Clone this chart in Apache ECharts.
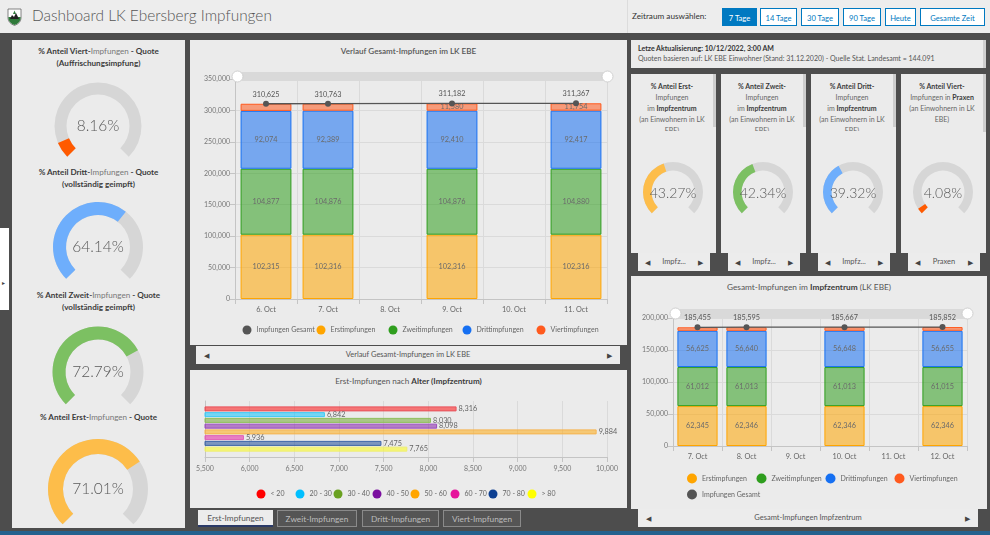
<!DOCTYPE html>
<html>
<head>
<meta charset="utf-8">
<script src="https://cdn.jsdelivr.net/npm/echarts/dist/echarts.min.js"></script>
<style>
html,body{margin:0;padding:0;width:990px;height:535px;overflow:hidden;background:#4d4d4d;font-family:Lato,'Open Sans',sans-serif;}
.a{position:absolute;}
.panel{position:absolute;background:#ebebeb;}
.hdr{position:absolute;left:0;top:0;width:990px;height:33px;background:#ededed;}
.btn{position:absolute;top:8px;height:18px;line-height:18px;border:1px solid #0079c1;background:#fff;color:#0079c1;font-size:7.6px;text-align:center;box-sizing:border-box;}
.btn.on{background:#0079c1;color:#fff;}
.ttl{position:absolute;text-align:center;font-size:8.1px;color:#444;white-space:nowrap;}
.b{font-weight:700;color:#3c3c3c;}
.l{font-weight:400;color:#777;}
.nav{position:absolute;background:#ececec;height:18px;line-height:18px;font-size:7.5px;color:#555;text-align:center;}
.nav .ar{position:absolute;top:0;font-size:7px;color:#444;}
.sg{position:absolute;text-align:center;font-size:7px;line-height:11px;color:#666;overflow:hidden;}
.tab{position:absolute;top:510px;height:17px;line-height:17px;font-size:8.3px;text-align:center;box-sizing:border-box;}
.tab.off{background:#555;color:#bdbdbd;border:1px solid #8a8a8a;}
.tab.on{background:#ececec;color:#555;border-bottom:2px solid #2b3a67;}
.chart{position:absolute;}
</style>
</head>
<body>
<script>
// ---------------- DATA ----------------
const mainDates  = ['6. Oct','7. Oct','8. Oct','9. Oct','10. Oct','11. Oct'];
const mainErst   = [102315, 102316, null, 102316, null, 102316];
const mainZweit  = [104877, 104876, null, 104876, null, 104880];
const mainDritt  = [92074, 92389, null, 92410, null, 92417];
const mainViert  = [11359, 11182, null, 11580, null, 11754];
const mainGesamt = [310625, 310763, null, 311182, null, 311367];

const izDates  = ['7. Oct','8. Oct','9. Oct','10. Oct','11. Oct','12. Oct'];
const izErst   = [62345, 62346, null, 62346, null, 62346];
const izZweit  = [61012, 61013, null, 61013, null, 61015];
const izDritt  = [56625, 56640, null, 56648, null, 56655];
const izViert  = [5473, 5596, null, 5660, null, 5836];
const izGesamt = [185455, 185595, null, 185667, null, 185852];

const ageGroups = ['< 20','20 - 30','30 - 40','40 - 50','50 - 60','60 - 70','70 - 80','> 80'];
const ageValues = [8316, 6842, 8030, 8098, 9884, 5936, 7475, 7765];

const quoteLeft = [8.16, 64.14, 72.79, 71.01];      // Viert, Dritt, Zweit, Erst
const quoteIZ   = [43.27, 42.34, 39.32, 4.08];      // Erst IZ, Zweit IZ, Dritt IZ, Viert Praxen

const buttonLabels = ['7 Tage','14 Tage','30 Tage','90 Tage','Heute','Gesamte Zeit'];
const tabLabels = ['Erst-Impfungen','Zweit-Impfungen','Dritt-Impfungen','Viert-Impfungen'];
</script>

<!-- header -->
<div class="hdr">
  <svg class="a" style="left:7px;top:8px" width="15" height="18" viewBox="0 0 15 18">
    <path d="M1 1 H14 V10 Q14 15 7.5 17.5 Q1 15 1 10 Z" fill="#fff" stroke="#666" stroke-width="0.8"/>
    <path d="M1.4 9 H13.6 V10 Q13.6 14.7 7.5 17 Q1.4 14.7 1.4 10 Z" fill="#2f7a3a"/>
    <path d="M3 11 L5 7 L7 9 L9 5 L11 9 L12 11 Z" fill="#222"/>
    <path d="M7.5 2.5 L6 6 H9 Z" fill="#2f7a3a"/>
  </svg>
  <div class="a" style="left:32px;top:6px;font-size:15.4px;font-weight:300;color:#555;white-space:nowrap;">Dashboard LK Ebersberg Impfungen</div>
  <div class="a" style="left:627px;top:0;width:1px;height:33px;background:#dcdcdc;"></div>
  <div class="a" style="left:632px;top:11px;font-size:8.2px;color:#333;white-space:nowrap;">Zeitraum auswählen:</div>
  <div id="btns"></div>
</div>

<!-- side toggle -->
<div class="a" style="left:0;top:228px;width:9px;height:82px;background:#fff;"></div>
<div class="a" style="left:2px;top:279px;font-size:6px;color:#444;">&#9656;</div>

<!-- left panel -->
<div class="panel" style="left:12px;top:40px;width:173px;height:488px;"></div>
<div class="ttl" style="left:12px;width:173px;top:46px;line-height:11.5px;"><span class="b">% Anteil Viert-</span><span class="l">Impfungen</span><span class="b"> - Quote</span><br><span class="b">(Auffrischungsimpfung)</span></div>
<div class="ttl" style="left:12px;width:173px;top:167px;line-height:11.5px;"><span class="b">% Anteil Dritt-</span><span class="l">Impfungen</span><span class="b"> - Quote</span><br><span class="b">(vollständig geimpft)</span></div>
<div class="ttl" style="left:12px;width:173px;top:290px;line-height:11.5px;"><span class="b">% Anteil Zweit-</span><span class="l">Impfungen</span><span class="b"> - Quote</span><br><span class="b">(vollständig geimpft)</span></div>
<div class="ttl" style="left:12px;width:173px;top:412px;line-height:11.5px;"><span class="b">% Anteil Erst-</span><span class="l">Impfungen</span><span class="b"> - Quote</span></div>
<div id="leftGauges" class="chart" style="left:12px;top:40px;width:173px;height:488px;"></div>

<!-- main chart panel -->
<div class="panel" style="left:190px;top:40px;width:437px;height:305px;"></div>
<div class="ttl" style="left:190px;width:437px;top:46px;color:#555;font-weight:600;">Verlauf Gesamt-Impfungen im LK EBE</div>
<div id="mainChart" class="chart" style="left:190px;top:40px;width:437px;height:305px;"></div>
<div class="nav" style="left:196px;top:346px;width:424px;">Verlauf Gesamt-Impfungen im LK EBE<span class="ar" style="left:8px">&#9664;</span><span class="ar" style="right:8px">&#9654;</span></div>

<!-- age chart panel -->
<div class="panel" style="left:190px;top:370px;width:437px;height:138px;"></div>
<div class="ttl" style="left:190px;width:437px;top:376px;color:#555;">Erst-Impfungen nach <span class="b">Alter (Impfzentrum)</span></div>
<div id="ageChart" class="chart" style="left:190px;top:370px;width:437px;height:138px;"></div>
<div id="tabs"></div>

<!-- info box -->
<div class="panel" style="left:631px;top:40px;width:355px;height:28px;"></div>
<div class="a" style="left:983px;top:40px;width:3px;height:28px;background:#cfcfcf;"></div>
<div class="a" style="left:638px;top:44px;font-size:7px;color:#333;font-weight:700;white-space:nowrap;">Letze Aktualisierung: 10/12/2022, 3:00 AM</div>
<div class="a" style="left:638px;top:54px;font-size:7px;color:#555;white-space:nowrap;">Quoten basieren auf: LK EBE Einwohner (Stand: 31.12.2020) - Quelle Stat. Landesamt = 144.091</div>

<!-- small gauge panels -->
<div id="smallPanels"></div>
<div id="smallGauges" class="chart" style="left:631px;top:130px;width:355px;height:123px;"></div>

<!-- IZ chart panel -->
<div class="panel" style="left:631px;top:276px;width:356px;height:233px;"></div>
<div class="ttl" style="left:631px;width:356px;top:282px;color:#555;font-size:8.3px;">Gesamt-Impfungen im <span class="b">Impfzentrum</span> (LK EBE)</div>
<div id="izChart" class="chart" style="left:631px;top:276px;width:356px;height:233px;"></div>
<div class="nav" style="left:638px;top:509px;width:340px;">Gesamt-Impfungen Impfzentrum<span class="ar" style="left:8px">&#9664;</span><span class="ar" style="right:8px">&#9654;</span></div>

<!-- bottom band -->
<div class="a" style="left:0;top:531px;width:990px;height:4px;background:#24618e;"></div>

<script>
// ---------- static html bits built from arrays ----------
const btnX = [722,760,801,843,885,920], btnW = [35,37,38,38,31,65];
document.getElementById('btns').innerHTML = buttonLabels.map((t,i)=>
  `<div class="btn${i===0?' on':''}" style="left:${btnX[i]}px;width:${btnW[i]}px;">${t}</div>`).join('');
const tabX = [198,277,362,443], tabW = [75,80,77,78];
document.getElementById('tabs').innerHTML = tabLabels.map((t,i)=>
  `<div class="tab ${i===0?'on':'off'}" style="left:${tabX[i]}px;width:${tabW[i]}px;">${t}</div>`).join('');

const sgX = [631,721,811,901];
const sgTitles = [
 '<span class="b">% Anteil Erst-</span><br>Impfungen<br>im <span class="b">Impfzentrum</span><br>(an Einwohnern in LK<br>EBE)',
 '<span class="b">% Anteil Zweit-</span><br>Impfungen<br>im <span class="b">Impfzentrum</span><br>(an Einwohnern in LK<br>EBE)',
 '<span class="b">% Anteil Dritt-</span><br>Impfungen<br>im <span class="b">Impfzentrum</span><br>(an Einwohnern in LK<br>EBE)',
 '<span class="b">% Anteil Viert-</span><br>Impfungen in <span class="b">Praxen</span><br>(an Einwohnern in LK<br>EBE)'
];
const sgNav = ['Impfz...','Impfz...','Impfz...','Praxen'];
document.getElementById('smallPanels').innerHTML = sgX.map((x,i)=>
  `<div class="panel" style="left:${x}px;top:74px;width:85px;height:179px;"></div>
   <div class="a" style="left:${x+82}px;top:74px;width:3px;height:${i===3?58:53}px;background:#cdcdcd;"></div>
   <div class="sg" style="left:${x}px;top:80.5px;width:82px;height:${i===3?48:50}px;">${sgTitles[i]}</div>
   <div class="nav" style="left:${x+7}px;top:253px;width:72px;">${sgNav[i]}<span class="ar" style="left:7px">&#9664;</span><span class="ar" style="right:7px">&#9654;</span></div>`).join('');

// ---------- helpers ----------
const fmt = n => (n===null||n===undefined) ? '' : String(n).replace(/\B(?=(\d{3})+(?!\d))/g, ',');
function rgba(hex, a){
  const v = parseInt(hex.slice(1),16);
  return `rgba(${(v>>16)&255},${(v>>8)&255},${v&255},${a})`;
}
const FONT = 'Lato';
const C = {erst:'#ffa500', zweit:'#2f9e1e', dritt:'#1670f2', viert:'#ff5a1e', gesamt:'#555555'};

// one legend component per item, placed on a fixed pitch like the original layout
function legends(items, slots, icon){
  return items.map((it,i)=>({
    data:[{name:it.name, itemStyle:{color:it.color, opacity:1, borderWidth:0}}],
    icon:'circle', itemWidth:icon, itemHeight:icon, itemGap:4,
    left:slots[i][0], top:slots[i][1], padding:0,
    textStyle:{fontSize:7, color:'#666', fontFamily:FONT}
  }));
}

const gaugeBase = {
  type:'gauge', startAngle:225, endAngle:-45, min:0, max:100,
  pointer:{show:false}, axisTick:{show:false}, splitLine:{show:false}, axisLabel:{show:false},
  anchor:{show:false}, title:{show:false}
};
function gauge(center, radius, width, value, color){
  return Object.assign({}, gaugeBase, {
    center, radius, z:2,
    progress:{show:true, width, roundCap:false, itemStyle:{color}},
    axisLine:{roundCap:false, lineStyle:{width, color:[[1,'#d6d6d6']]}},
    detail:{show:false},
    data:[{value}]
  });
}
function gaugeText(center, radius, value, fontSize){
  return Object.assign({}, gaugeBase, {
    center, radius, z:10,
    progress:{show:false}, axisLine:{show:false},
    detail:{valueAnimation:false, offsetCenter:[0,0], fontSize, color:'#5a5a5a', fontFamily:FONT, fontWeight:300,
            formatter: v => v.toFixed(2)+'%'},
    data:[{value}]
  });
}

// ---------- left gauges ----------
const leftColors = ['#ff5a00','#6eaefc','#7cc062','#fdbd4a'];
const leftGeo = [
  {c:[86,86], r:43.5, w:12},
  {c:[86,207], r:45, w:13},
  {c:[86,332], r:45.5, w:13},
  {c:[86,449], r:50, w:15}
];
echarts.init(document.getElementById('leftGauges')).setOption({
  animation:false,
  series: quoteLeft.map((v,i)=>gauge(leftGeo[i].c, leftGeo[i].r, leftGeo[i].w, v, leftColors[i]))
    .concat(quoteLeft.map((v,i)=>gaugeText(leftGeo[i].c, leftGeo[i].r, v, 15.5)))
});

// ---------- small gauges ----------
const smallColors = ['#fdbd4a','#7cc062','#6eaefc','#ff5a00'];
echarts.init(document.getElementById('smallGauges')).setOption({
  animation:false,
  series: quoteIZ.map((v,i)=>gauge([42+90*i, 62], 30, 8.5, v, smallColors[i]))
    .concat(quoteIZ.map((v,i)=>gaugeText([42+90*i, 63], 30, v, 14)))
});

// ---------- stacked charts ----------
const names = {erst:'Erstimpfungen', zweit:'Zweitimpfungen', dritt:'Drittimpfungen', viert:'Viertimpfungen', gesamt:'Impfungen Gesamt'};
function stackedOption(cfg){
  const barS = (name, data, color, showLbl) => ({
    name, type:'bar', stack:'total', data, barCategoryGap:'18%',
    itemStyle:{color:rgba(color,0.55), borderColor:color, borderWidth:1},
    label:{show:true, position:'inside', fontSize:7.3, color:'#6a6a6a', fontFamily:FONT,
           formatter: p => showLbl(p.dataIndex) ? fmt(p.value) : ''}
  });
  const all = () => true;
  const lineS = {
    name:names.gesamt, type:'line', data:cfg.gesamt, connectNulls:true, z:5,
    symbol:'circle', symbolSize:6, itemStyle:{color:C.gesamt}, lineStyle:{color:C.gesamt, width:1.3},
    label:{show:true, position:'top', distance:3, fontSize:7.3, color:'#555', fontFamily:FONT, formatter:p=>fmt(p.value)}
  };
  return {
    animation:false,
    textStyle:{fontFamily:FONT},
    grid: cfg.grid,
    dataZoom:[{type:'slider', xAxisIndex:0, filterMode:'none', start:0, end:100,
      top:cfg.zoomTop, height:9, left:cfg.grid.left, right:cfg.grid.right,
      showDetail:false, showDataShadow:false, brushSelect:false, moveHandleSize:0,
      backgroundColor:'#dedede', borderColor:'transparent', fillerColor:'rgba(0,0,0,0.02)',
      handleIcon:'circle', handleSize:11, handleStyle:{color:'#fff', borderColor:'#cfcfcf', borderWidth:1},
      dataBackground:{lineStyle:{opacity:0}, areaStyle:{opacity:0}},
      selectedDataBackground:{lineStyle:{opacity:0}, areaStyle:{opacity:0}}
    }],
    legend: legends(cfg.legendOrder.map(k=>({name:names[k], color:C[k]})), cfg.legendSlots, cfg.legendIcon),
    xAxis:{type:'category', data:cfg.dates,
      axisLine:{lineStyle:{color:'#c4c4c4'}}, axisTick:{show:true, lineStyle:{color:'#c4c4c4'}},
      axisLabel:{fontSize:7.3, color:'#666', margin:7, fontFamily:FONT},
      splitLine:{show:true, lineStyle:{color:'#dadada'}}},
    yAxis:{type:'value', min:0, max:cfg.ymax, interval:50000,
      axisLine:{show:true, lineStyle:{color:'#c4c4c4'}}, axisTick:{show:true, lineStyle:{color:'#c4c4c4'}},
      axisLabel:{fontSize:7, color:'#777', margin:5, formatter:fmt, fontFamily:FONT},
      splitLine:{lineStyle:{color:'#dadada'}}},
    series:[
      barS(names.erst, cfg.erst, C.erst, all),
      barS(names.zweit, cfg.zweit, C.zweit, all),
      barS(names.dritt, cfg.dritt, C.dritt, all),
      barS(names.viert, cfg.viert, C.viert, cfg.viertLbl),
      lineS
    ]
  };
}

echarts.init(document.getElementById('mainChart')).setOption(stackedOption({
  dates:mainDates, erst:mainErst, zweit:mainZweit, dritt:mainDritt, viert:mainViert, gesamt:mainGesamt,
  ymax:350000,
  grid:{left:45, right:20, top:39, bottom:46},
  zoomTop:32,
  legendOrder:['gesamt','erst','zweit','dritt','viert'],
  legendSlots:[[52.5,285.5],[126.5,285.5],[198.5,285.5],[272.5,285.5],[346.5,285.5]],
  legendIcon:9,
  viertLbl: i => i>=3
}));

echarts.init(document.getElementById('izChart')).setOption(stackedOption({
  dates:izDates, erst:izErst, zweit:izZweit, dritt:izDritt, viert:izViert, gesamt:izGesamt,
  ymax:200000,
  grid:{left:42, right:20, top:42, bottom:63},
  zoomTop:33,
  legendOrder:['erst','zweit','dritt','viert','gesamt'],
  legendSlots:[[56,197.5],[125.5,197.5],[194.5,197.5],[263.5,197.5],[56,213.5]],
  legendIcon:10,
  viertLbl: i => false
}));

// ---------- age chart ----------
const ageColors = ['#ff0000','#00bfff','#6aa121','#7b0fa0','#ffa500','#e6149c','#0d3f91','#ffff00'];
const ageBorders = ['#e8505a','#3ccaf5','#8fbf5a','#9b4cbf','#f5b450','#e060b8','#3d65a8','#eeee70'];
const ageSlots = [66.5,105.5,143.5,182.5,220.5,260.5,298.5,337.5].map(x=>[x,119.5]);
echarts.init(document.getElementById('ageChart')).setOption({
  animation:false,
  textStyle:{fontFamily:FONT},
  grid:{left:15, right:20, top:31, bottom:51},
  legend: legends(ageGroups.map((g,i)=>({name:g, color:ageColors[i]})), ageSlots, 9),
  xAxis:{type:'value', min:5500, max:10000, interval:500,
    axisLine:{show:true, lineStyle:{color:'#c4c4c4'}}, axisTick:{show:true, lineStyle:{color:'#c4c4c4'}},
    axisLabel:{fontSize:7, color:'#777', margin:8, formatter:fmt, fontFamily:FONT},
    splitLine:{lineStyle:{color:'#dadada'}}},
  yAxis:{type:'category', data:[''], inverse:true,
    axisLine:{lineStyle:{color:'#c4c4c4'}}, axisTick:{alignWithLabel:true, lineStyle:{color:'#c4c4c4'}},
    axisLabel:{show:false}},
  series: ageGroups.map((g,i)=>({
    name:g, type:'bar', data:[ageValues[i]], barWidth:5, barGap:'15%', clip:true,
    itemStyle:{color:rgba(ageColors[i],0.5), borderColor:ageBorders[i], borderWidth:1},
    label:{show:true, position:'right', distance:2, fontSize:7.3, color:'#666', fontFamily:FONT, formatter:p=>fmt(p.value)}
  }))
});
</script>
</body>
</html>
